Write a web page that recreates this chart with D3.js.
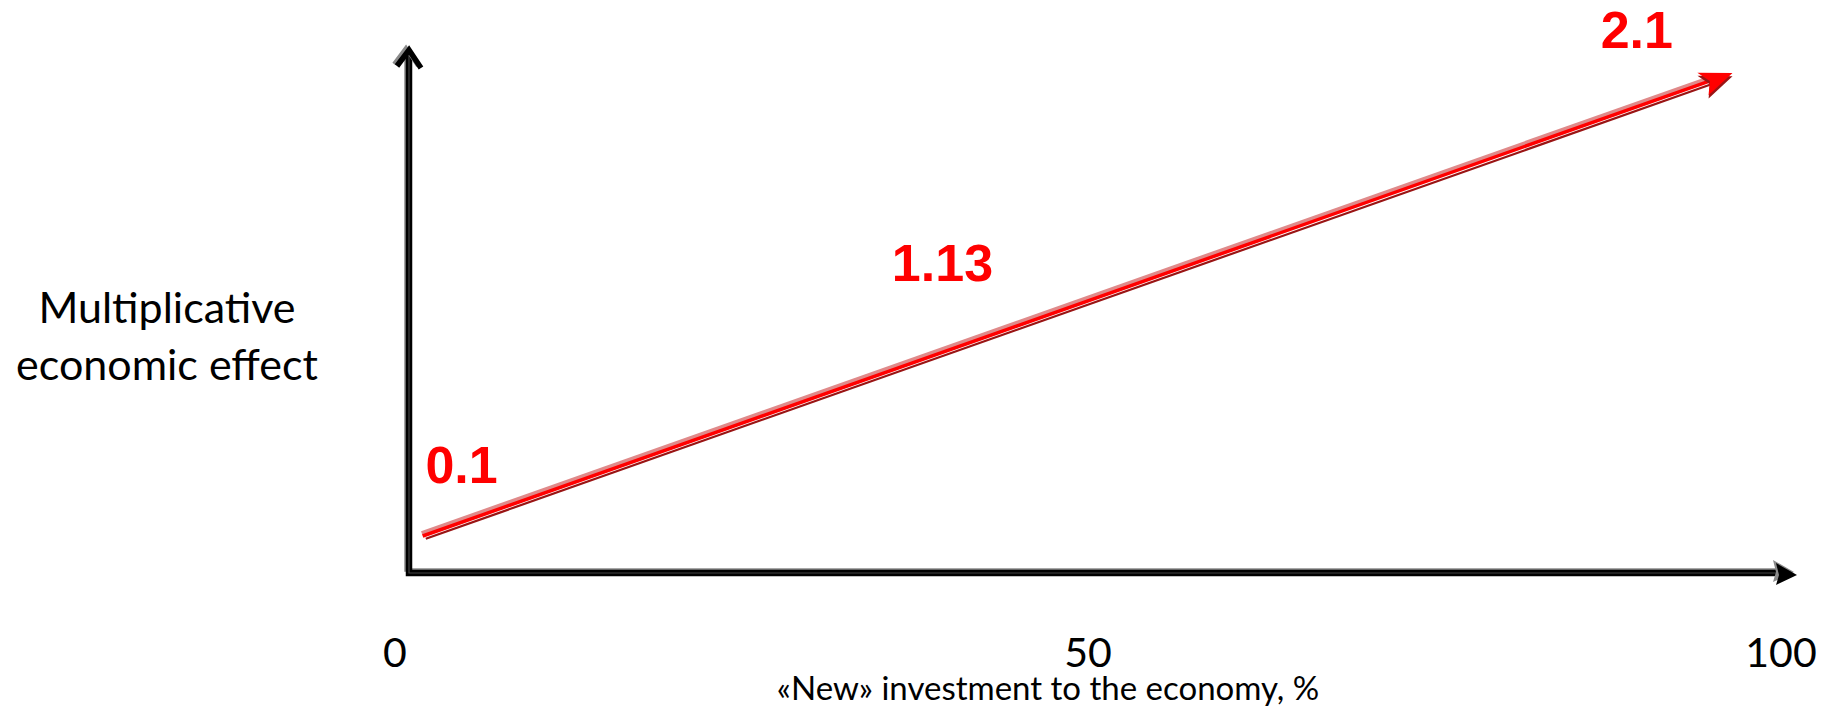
<!DOCTYPE html>
<html lang="en">
<head>
<meta charset="UTF-8">
<title>Multiplicative economic effect</title>
<script src="https://d3js.org/d3.v7.min.js"></script>
<style>
  body { margin: 0; background: white; }
  svg text { font-family: Lato, "Open Sans", sans-serif; fill: black; }
  .val { font-family: "Liberation Sans", Arial, sans-serif; font-weight: bold; fill: #ff0000; }
</style>
</head>
<body>
<div id="chart"></div>
<script>
  // set the dimensions of the picture
  var width = 1821,
      height = 708;

  // the red line: "new" investment (%) against the effect
  var lineX = [2, 96.5];
  var lineY = [0.1, 2.1];

  // the value labels along the line, anchored in data units
  var labelText = ["0.1", "1.13", "2.1"];
  var labelX = [4.8, 39.5, 89.6];
  var labelY = [0.33, 1.2, 2.21];

  // tick labels of the x axis
  var xTicks = [0, 50, 100];

  var yTitle = ["Multiplicative", "economic effect"];
  var xTitle = "\u00abNew\u00bb investment to the economy, %";

  var x = d3.scaleLinear().domain([0, 100]).range([395, 1781]);
  var y = d3.scaleLinear().domain([0.1, 2.1]).range([536, 73]);

  // frame of the axes (origin, arrow tips)
  var ax0 = 409, ay0 = 573, axTop = 47, axRight = 1797;

  var svg = d3.select("#chart")
    .append("svg")
      .attr("width", width)
      .attr("height", height);

  // --- axes: a grey shadow plus a black double stroke
  var axes = svg.append("g");
  var axisPath = "M" + ax0 + "," + (axTop + 8) + "V" + ay0 + "H" + (axRight - 10);

  axes.append("path")
    .attr("d", axisPath)
    .attr("transform", "translate(-3,-3)")
    .attr("fill", "none")
    .attr("stroke", "#8a8a8a")
    .attr("stroke-width", 3.5);
  axes.append("path")
    .attr("d", axisPath)
    .attr("fill", "none")
    .attr("stroke", "black")
    .attr("stroke-width", 6.5);
  axes.append("path")
    .attr("d", axisPath)
    .attr("fill", "none")
    .attr("stroke", "#444")
    .attr("stroke-width", 1.2);

  // y arrow (open chevron)
  var chevron = "M" + (ax0 - 12) + "," + (axTop + 19) + "L" + ax0 + "," + (axTop + 3) + "L" + (ax0 + 12) + "," + (axTop + 21);
  axes.append("path")
    .attr("d", chevron)
    .attr("transform", "translate(-3,-2)")
    .attr("fill", "none")
    .attr("stroke", "#8a8a8a")
    .attr("stroke-width", 4);
  axes.append("path")
    .attr("d", chevron)
    .attr("fill", "none")
    .attr("stroke", "black")
    .attr("stroke-width", 5.5);

  // x arrow (filled)
  var tri = "M" + axRight + "," + (ay0 + 2) + "L" + (axRight - 21) + "," + (ay0 - 10) + "L" + (axRight - 18) + "," + (ay0 + 2) + "L" + (axRight - 21) + "," + (ay0 + 12) + "Z";
  axes.append("path")
    .attr("d", tri)
    .attr("transform", "translate(-3,-3)")
    .attr("fill", "#8a8a8a");
  axes.append("path")
    .attr("d", tri)
    .attr("fill", "black");

  // --- red line
  var pts = lineX.map(function(d, i) { return [x(d), y(lineY[i])]; });
  var p0 = pts[0], p1 = pts[1];
  var deg = Math.atan2(p1[1] - p0[1], p1[0] - p0[0]) * 180 / Math.PI;
  var len = Math.hypot(p1[0] - p0[0], p1[1] - p0[1]);

  var red = svg.append("g")
    .attr("transform", "translate(" + p0[0] + "," + p0[1] + ") rotate(" + deg + ")");

  red.append("line")
    .attr("x1", 0).attr("y1", -2.8).attr("x2", len - 20).attr("y2", -2.8)
    .attr("stroke", "#e08a8a").attr("stroke-width", 4.5);
  red.append("line")
    .attr("x1", 2).attr("y1", 3.6).attr("x2", len - 20).attr("y2", 3.6)
    .attr("stroke", "#9a1414").attr("stroke-width", 2.2);
  red.append("line")
    .attr("x1", 0).attr("y1", 0).attr("x2", len - 20).attr("y2", 0)
    .attr("stroke", "#ff0000").attr("stroke-width", 3.5);

  // red arrowhead
  var head = "M0,0L-33,-12L-24,0L-30,13Z";
  red.append("path")
    .attr("d", head)
    .attr("transform", "translate(" + (len - 1) + ",3)")
    .attr("fill", "#9a1414");
  red.append("path")
    .attr("d", head)
    .attr("transform", "translate(" + len + ",0)")
    .attr("fill", "#ff0000");

  // --- value labels
  svg.selectAll(".val")
    .data(labelText)
    .enter()
    .append("text")
      .attr("class", "val")
      .attr("x", function(d, i) { return x(labelX[i]); })
      .attr("y", function(d, i) { return y(labelY[i]); })
      .attr("text-anchor", "middle")
      .style("font-size", "52px")
      .text(function(d) { return d; });

  // --- tick labels
  svg.selectAll(".tick")
    .data(xTicks)
    .enter()
    .append("text")
      .attr("class", "tick")
      .attr("x", function(d) { return x(d); })
      .attr("y", 667)
      .attr("text-anchor", "middle")
      .style("font-size", "41px")
      .text(function(d) { return d; });

  // --- titles
  svg.append("text")
    .attr("x", 1048)
    .attr("y", 700)
    .attr("text-anchor", "middle")
    .style("font-size", "33px")
    .text(xTitle);

  svg.selectAll(".ytitle")
    .data(yTitle)
    .enter()
    .append("text")
      .attr("class", "ytitle")
      .attr("x", 167)
      .attr("y", function(d, i) { return 323 + i * 57; })
      .attr("text-anchor", "middle")
      .style("font-size", "43px")
      .text(function(d) { return d; });
</script>
</body>
</html>
